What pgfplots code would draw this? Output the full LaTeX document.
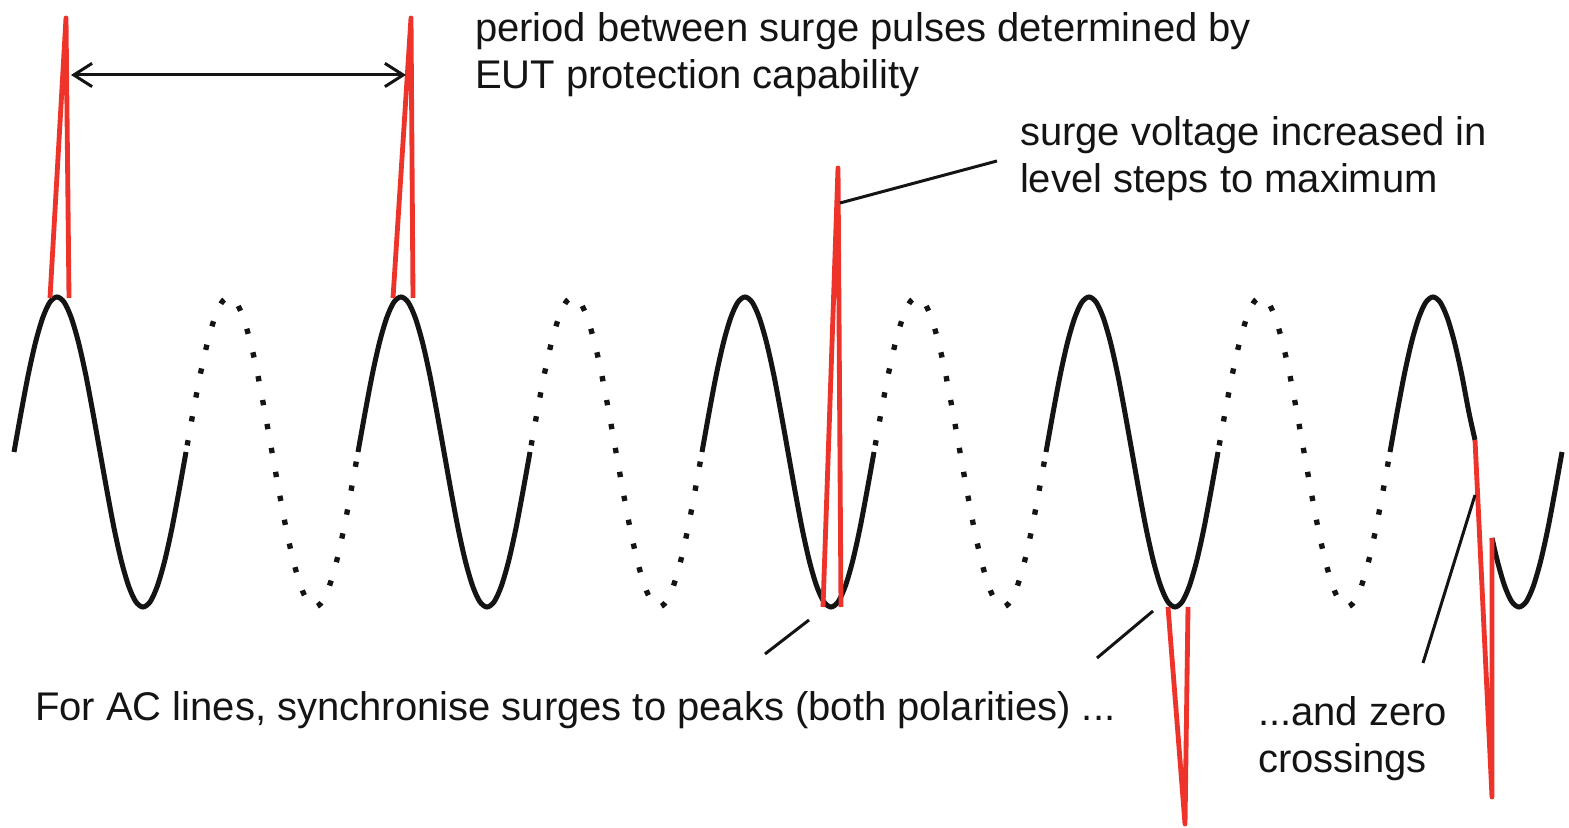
\documentclass[border=0pt]{standalone}
\usepackage{fontspec}
\setmainfont{Liberation Sans}
\usepackage{pgfplots}
\pgfplotsset{compat=1.18}
\usetikzlibrary{arrows.meta}
\definecolor{surgered}{RGB}{238,51,43}
\definecolor{wave}{RGB}{20,20,20}
\tikzset{lbl/.style={anchor=base west, inner sep=0pt, outer sep=0pt, font=\fontsize{12}{14}\selectfont, text=wave}}
\begin{document}
\begin{tikzpicture}
\begin{axis}[
  scale only axis, width=470.7pt, height=248.4pt,
  xmin=0, xmax=1569, ymin=0, ymax=828, y dir=reverse,
  hide axis, clip=false,
  solidwave/.style={wave, line width=1.5pt, smooth, no markers},
  dotwave/.style={wave, line width=1.6pt, smooth, no markers, dash pattern=on 1.6pt off 5.7pt, dash phase=-2pt},
  spike/.style={surgered, line width=1.45pt, no markers, line join=round},
]
\path (0,0) (1569,828);
% AC wave: solid cycles
\addplot[solidwave] coordinates {(14,452) (21.2,411.9) (28.3,374.5) (35.5,342.4) (42.7,317.8) (49.8,302.3) (57,297) (64.2,302.3) (71.3,317.8) (78.5,342.4) (85.7,374.5) (92.8,411.9) (100,452) (107.2,492.1) (114.3,529.5) (121.5,561.6) (128.7,586.2) (135.8,601.7) (143,607) (150.2,601.7) (157.3,586.2) (164.5,561.6) (171.7,529.5) (178.8,492.1) (186,452)};
\addplot[solidwave] coordinates {(358,452) (365.2,411.9) (372.3,374.5) (379.5,342.4) (386.7,317.8) (393.8,302.3) (401,297) (408.2,302.3) (415.3,317.8) (422.5,342.4) (429.7,374.5) (436.8,411.9) (444,452) (451.2,492.1) (458.3,529.5) (465.5,561.6) (472.7,586.2) (479.8,601.7) (487,607) (494.2,601.7) (501.3,586.2) (508.5,561.6) (515.7,529.5) (522.8,492.1) (530,452)};
\addplot[solidwave] coordinates {(702,452) (709.2,411.9) (716.3,374.5) (723.5,342.4) (730.7,317.8) (737.8,302.3) (745,297) (752.2,302.3) (759.3,317.8) (766.5,342.4) (773.7,374.5) (780.8,411.9) (788,452) (795.2,492.1) (802.3,529.5) (809.5,561.6) (816.7,586.2) (823.8,601.7) (831,607) (838.2,601.7) (845.3,586.2) (852.5,561.6) (859.7,529.5) (866.8,492.1) (874,452)};
\addplot[solidwave] coordinates {(1046,452) (1053.2,411.9) (1060.3,374.5) (1067.5,342.4) (1074.7,317.8) (1081.8,302.3) (1089,297) (1096.2,302.3) (1103.3,317.8) (1110.5,342.4) (1117.7,374.5) (1124.8,411.9) (1132,452) (1139.2,492.1) (1146.3,529.5) (1153.5,561.6) (1160.7,586.2) (1167.8,601.7) (1175,607) (1182.2,601.7) (1189.3,586.2) (1196.5,561.6) (1203.7,529.5) (1210.8,492.1) (1218,452)};
\addplot[solidwave] coordinates {(1390,452) (1397.2,411.9) (1404.3,374.5) (1411.5,342.4) (1418.7,317.8) (1425.8,302.3) (1433,297) (1440.2,302.3) (1447.3,317.8) (1454.5,342.4) (1461.7,374.5) (1468.8,411.9) (1475,440)};
\addplot[solidwave] coordinates {(1492,538) (1497.5,561.6) (1504.7,586.2) (1511.8,601.7) (1519,607) (1526.2,601.7) (1533.3,586.2) (1540.5,561.6) (1547.7,529.5) (1554.8,492.1) (1562,452)};
% AC wave: dotted cycles
\addplot[dotwave] coordinates {(186,452) (193.2,411.9) (200.3,374.5) (207.5,342.4) (214.7,317.8) (221.8,302.3) (229,297) (236.2,302.3) (243.3,317.8) (250.5,342.4) (257.7,374.5) (264.8,411.9) (272,452) (279.2,492.1) (286.3,529.5) (293.5,561.6) (300.7,586.2) (307.8,601.7) (315,607) (322.2,601.7) (329.3,586.2) (336.5,561.6) (343.7,529.5) (350.8,492.1) (358,452)};
\addplot[dotwave] coordinates {(530,452) (537.2,411.9) (544.3,374.5) (551.5,342.4) (558.7,317.8) (565.8,302.3) (573,297) (580.2,302.3) (587.3,317.8) (594.5,342.4) (601.7,374.5) (608.8,411.9) (616,452) (623.2,492.1) (630.3,529.5) (637.5,561.6) (644.7,586.2) (651.8,601.7) (659,607) (666.2,601.7) (673.3,586.2) (680.5,561.6) (687.7,529.5) (694.8,492.1) (702,452)};
\addplot[dotwave] coordinates {(874,452) (881.2,411.9) (888.3,374.5) (895.5,342.4) (902.7,317.8) (909.8,302.3) (917,297) (924.2,302.3) (931.3,317.8) (938.5,342.4) (945.7,374.5) (952.8,411.9) (960,452) (967.2,492.1) (974.3,529.5) (981.5,561.6) (988.7,586.2) (995.8,601.7) (1003,607) (1010.2,601.7) (1017.3,586.2) (1024.5,561.6) (1031.7,529.5) (1038.8,492.1) (1046,452)};
\addplot[dotwave] coordinates {(1218,452) (1225.2,411.9) (1232.3,374.5) (1239.5,342.4) (1246.7,317.8) (1253.8,302.3) (1261,297) (1268.2,302.3) (1275.3,317.8) (1282.5,342.4) (1289.7,374.5) (1296.8,411.9) (1304,452) (1311.2,492.1) (1318.3,529.5) (1325.5,561.6) (1332.7,586.2) (1339.8,601.7) (1347,607) (1354.2,601.7) (1361.3,586.2) (1368.5,561.6) (1375.7,529.5) (1382.8,492.1) (1390,452)};
% surge pulses
\addplot[spike] coordinates {(50,298) (66,18) (69,298)};
\addplot[spike] coordinates {(393,298) (411,18) (413,298)};
\addplot[spike] coordinates {(823,607) (838,168) (841,607)};
\addplot[spike] coordinates {(1168,607) (1185,824) (1188,607)};
\addplot[spike] coordinates {(1475,440) (1492,797) (1492,538)};
% annotations
\draw[wave, line width=0.9pt, {Straight Barb[length=5.5pt,width=7pt]}-{Straight Barb[length=5.5pt,width=7pt]}] (71,75) -- (406,75);
\draw[wave, line width=0.9pt] (840,203) -- (997,161);
\draw[wave, line width=0.9pt] (765,654) -- (809,620);
\draw[wave, line width=0.9pt] (1097,658) -- (1153,611);
\draw[wave, line width=0.9pt] (1423,663) -- (1475,495);
\node[lbl] at (475,42) {period between surge pulses determined by};
\node[lbl] at (475,89) {EUT protection capability};
\node[lbl] at (1020,146) {surge voltage increased in};
\node[lbl] at (1020,193) {level steps to maximum};
\node[lbl] at (35,720) {For AC lines, synchronise surges to peaks (both polarities) ...};
\node[lbl] at (1258,725) {...and zero};
\node[lbl] at (1258,772) {crossings};
\end{axis}
\end{tikzpicture}
\end{document}
